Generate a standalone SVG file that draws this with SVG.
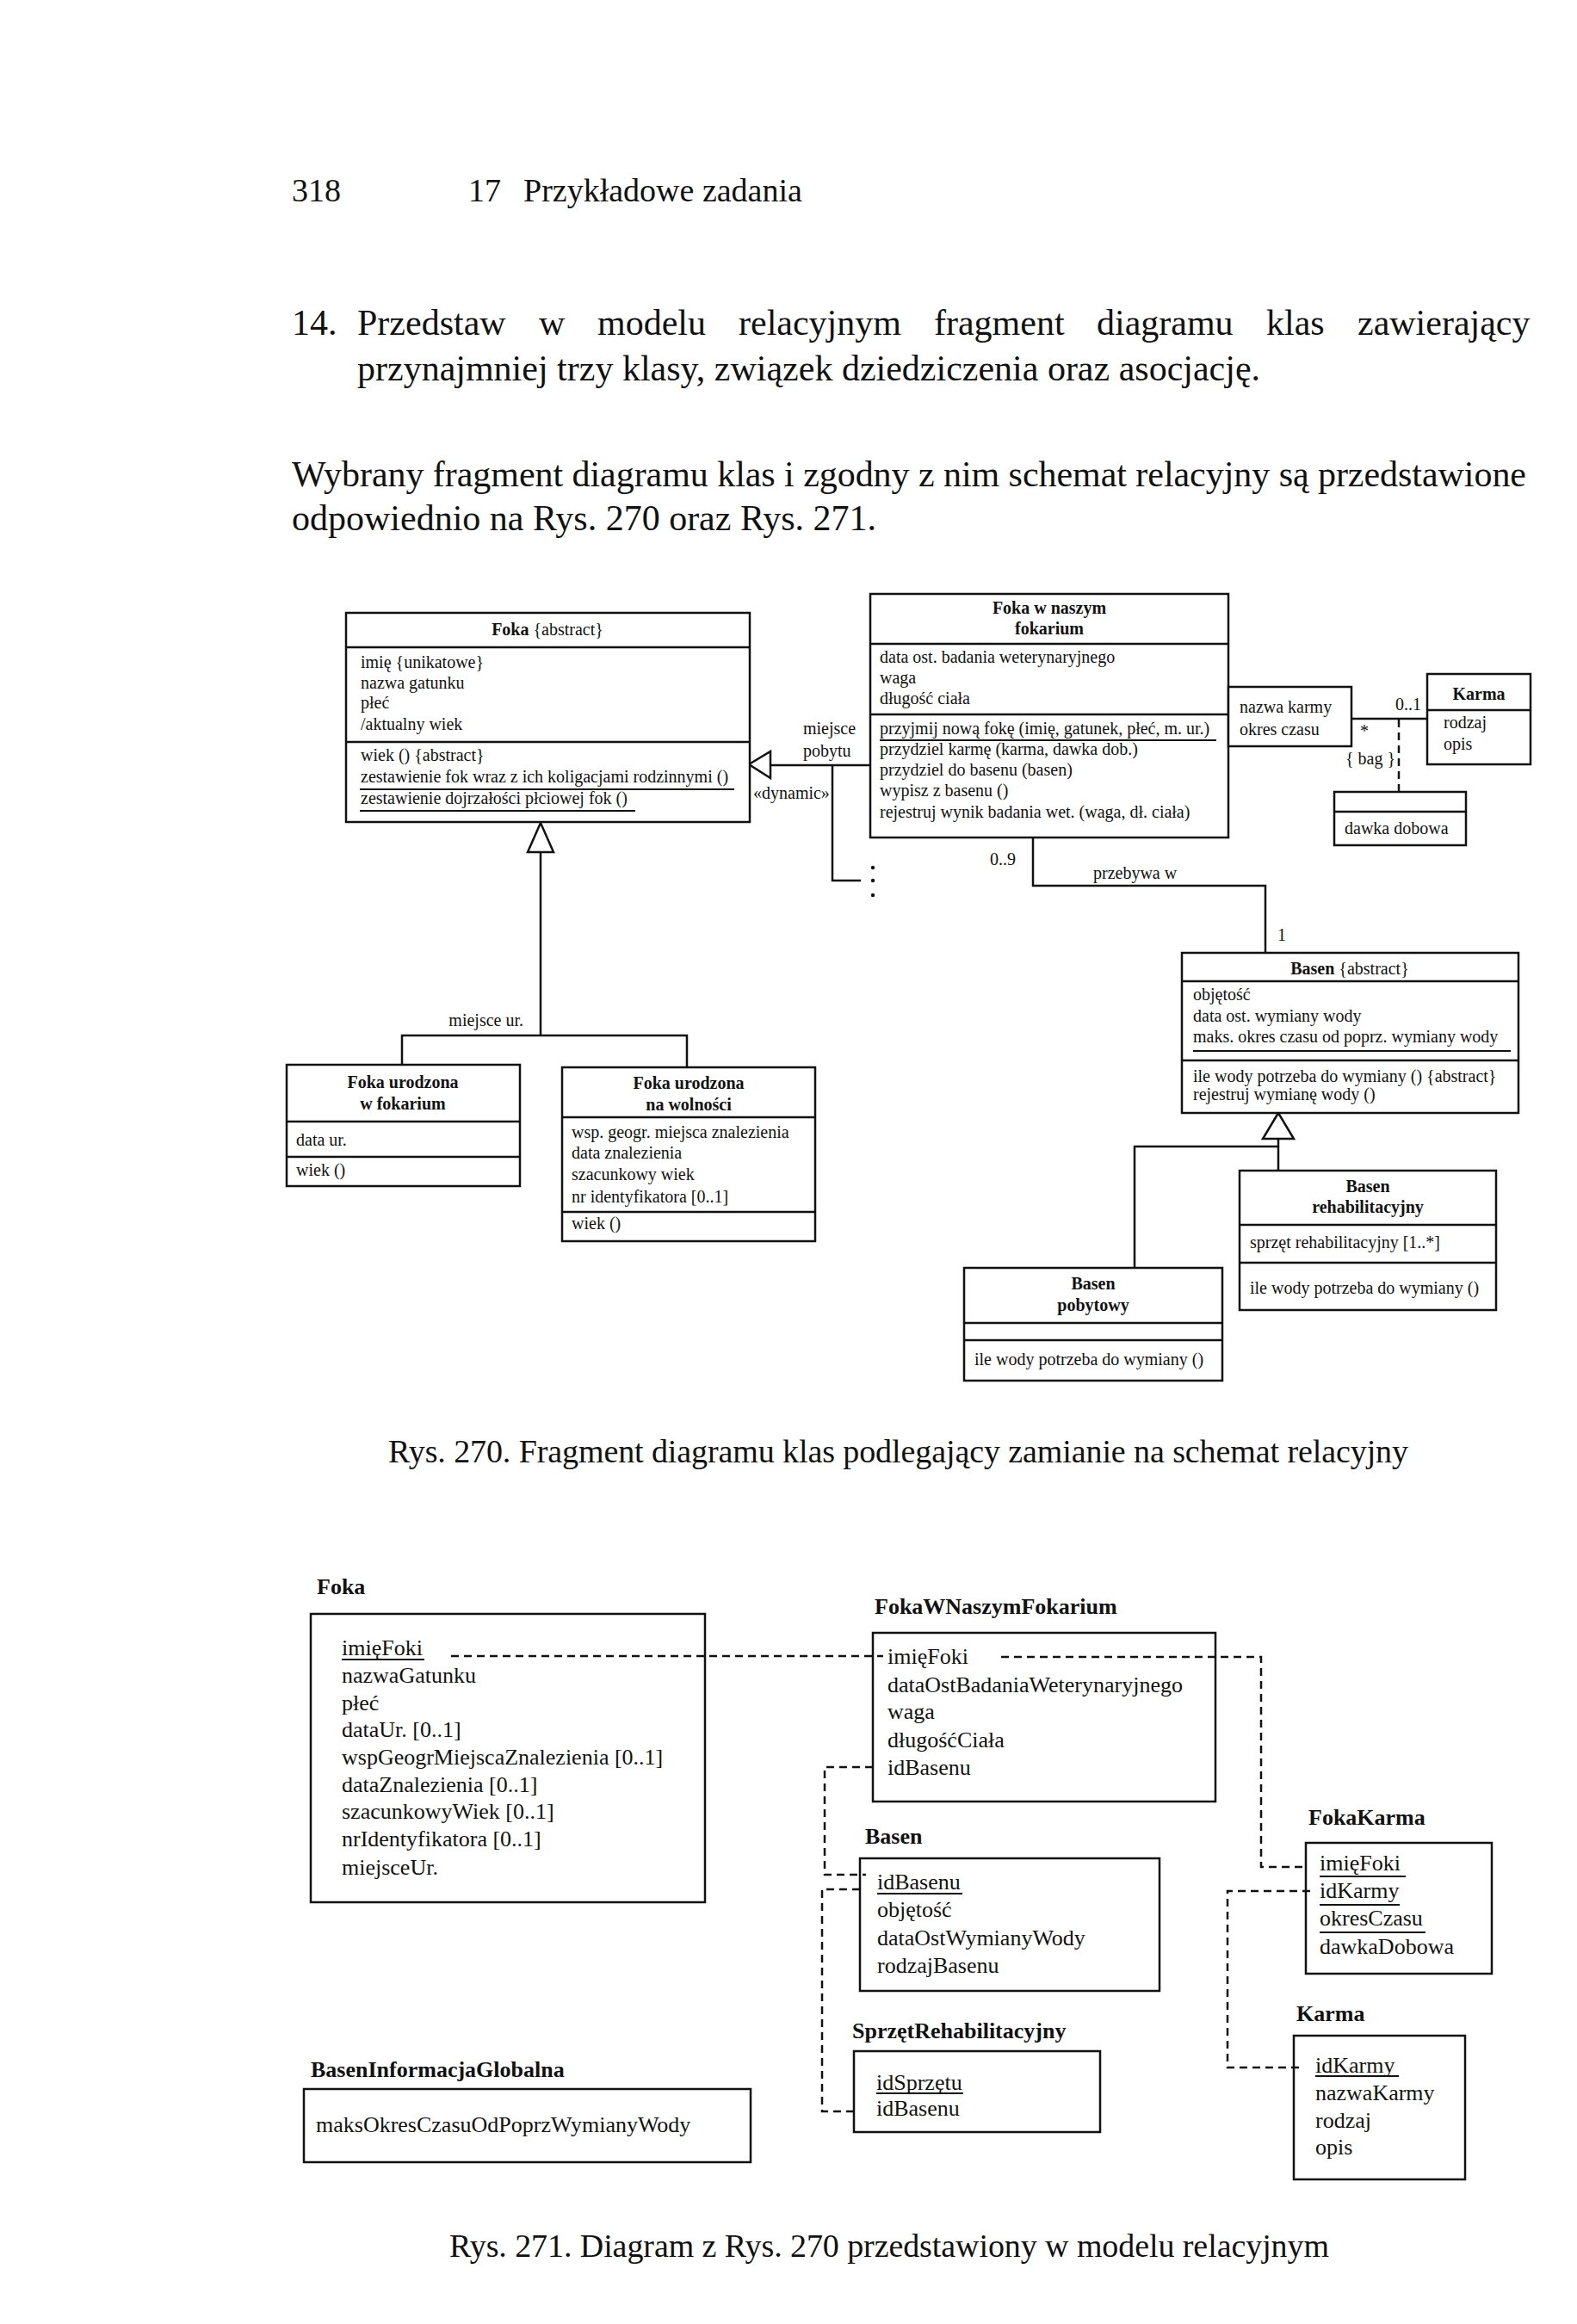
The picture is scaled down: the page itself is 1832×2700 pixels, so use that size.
<svg xmlns="http://www.w3.org/2000/svg" width="1832" height="2700" viewBox="0 0 1832 2700">
<style>
  text { font-family: "Liberation Serif", "Times New Roman", serif; fill: #111; }
  .page { font-size: 38px; }
  .body { font-size: 42px; }
  .cap { font-size: 38px; }
  .t { font-size: 20px; }
  .tb { font-size: 20px; font-weight: bold; }
  .r { font-size: 26px; }
  .rl { font-size: 26px; font-weight: bold; }
  .box { fill: #fff; stroke: #111; stroke-width: 2.5; }
  .ln { fill: none; stroke: #111; stroke-width: 2.5; }
  .ul { stroke: #111; stroke-width: 1.8; }
  .dash { fill: none; stroke: #111; stroke-width: 2.5; stroke-dasharray: 9 6; }
  .tri { fill: #fff; stroke: #111; stroke-width: 2.5; }
</style>

<rect x="0" y="0" width="1832" height="2700" fill="#fff"/>

<!-- Page header and text -->
<g id="page-text">
  <text class="page" x="339" y="234">318</text>
  <text class="page" x="544" y="234">17</text>
  <text class="page" x="608" y="234">Przykładowe zadania</text>

  <text class="body" x="339" y="389">14.</text>
  <text class="body" y="389"><tspan x="415">Przedstaw</tspan><tspan x="626">w</tspan><tspan x="694">modelu</tspan><tspan x="858">relacyjnym</tspan><tspan x="1085">fragment</tspan><tspan x="1274">diagramu</tspan><tspan x="1471">klas</tspan><tspan x="1577">zawierający</tspan></text>
  <text class="body" x="415" y="442">przynajmniej trzy klasy, związek dziedziczenia oraz asocjację.</text>

  <text class="body" x="339" y="565" textLength="1434" lengthAdjust="spacing">Wybrany fragment diagramu klas i zgodny z nim schemat relacyjny są przedstawione</text>
  <text class="body" x="339" y="616">odpowiednio na Rys. 270 oraz Rys. 271.</text>

  <text class="cap" x="451" y="1699" textLength="1185" lengthAdjust="spacing">Rys. 270. Fragment diagramu klas podlegający zamianie na schemat relacyjny</text>
  <text class="cap" x="522" y="2622" textLength="1022" lengthAdjust="spacing">Rys. 271. Diagram z Rys. 270 przedstawiony w modelu relacyjnym</text>
</g>

<!-- ===================== Rys. 270 : UML class diagram ===================== -->
<g id="uml-connectors">
  <!-- generalization Foka <- subclasses -->
  <polyline class="ln" points="628,990 628,1203"/>
  <polyline class="ln" points="467,1237 467,1203 798,1203 798,1240"/>
  <polygon class="tri" points="628,956 613,990 643,990"/>
  <text class="t" x="608" y="1192" text-anchor="end">miejsce ur.</text>

  <!-- dynamic generalization: Foka w naszym fokarium -> Foka -->
  <polyline class="ln" points="895,889 1011,889"/>
  <polyline class="ln" points="967,889 967,1023 1000,1023"/>
  <polygon class="tri" points="870,888 895,873 895,904"/>
  <circle cx="1014" cy="1008" r="2.2" fill="#111"/>
  <circle cx="1014" cy="1023" r="2.2" fill="#111"/>
  <circle cx="1014" cy="1040" r="2.2" fill="#111"/>
  <text class="t" x="933" y="853">miejsce</text>
  <text class="t" x="933" y="879">pobytu</text>
  <text class="t" x="875" y="928">«dynamic»</text>

  <!-- association przebywa w -->
  <polyline class="ln" points="1200,973 1200,1029 1470,1029 1470,1107"/>
  <text class="t" x="1150" y="1005">0..9</text>
  <text class="t" x="1270" y="1021">przebywa w</text>
  <text class="t" x="1484" y="1093">1</text>

  <!-- qualified association to Karma -->
  <line class="ln" x1="1570" y1="835" x2="1658" y2="835"/>
  <line class="dash" x1="1625" y1="836" x2="1625" y2="920" stroke-dasharray="7 5"/>
  <text class="t" x="1621" y="825">0..1</text>
  <text class="t" x="1580" y="856">*</text>
  <text class="t" x="1563" y="888">{ bag }</text>

  <!-- generalization Basen <- subclasses -->
  <polyline class="ln" points="1485,1323 1485,1360"/>
  <polyline class="ln" points="1485,1332 1318,1332 1318,1473"/>
  <polygon class="tri" points="1485,1293 1467,1323 1503,1323"/>
</g>

<g id="uml-foka">
  <rect class="box" x="402" y="712" width="469" height="243"/>
  <line class="ln" x1="402" y1="752" x2="871" y2="752"/>
  <line class="ln" x1="402" y1="862" x2="871" y2="862"/>
  <text class="t" x="636" y="738" text-anchor="middle"><tspan font-weight="bold">Foka</tspan> {abstract}</text>
  <text class="t" x="419" y="776">imię {unikatowe}</text>
  <text class="t" x="419" y="800">nazwa gatunku</text>
  <text class="t" x="419" y="823">płeć</text>
  <text class="t" x="419" y="848">/aktualny wiek</text>
  <text class="t" x="419" y="884">wiek () {abstract}</text>
  <text class="t" x="419" y="909">zestawienie fok wraz z ich koligacjami rodzinnymi ()</text>
  <line class="ul" x1="418" y1="917" x2="853" y2="917"/>
  <text class="t" x="419" y="934">zestawienie dojrzałości płciowej fok ()</text>
  <line class="ul" x1="418" y1="942" x2="738" y2="942"/>
</g>

<g id="uml-foka-fokarium">
  <rect class="box" x="1011" y="690" width="416" height="283"/>
  <line class="ln" x1="1011" y1="748" x2="1427" y2="748"/>
  <line class="ln" x1="1011" y1="830" x2="1427" y2="830"/>
  <text class="tb" x="1219" y="713" text-anchor="middle">Foka w naszym</text>
  <text class="tb" x="1219" y="737" text-anchor="middle">fokarium</text>
  <text class="t" x="1022" y="770">data ost. badania weterynaryjnego</text>
  <text class="t" x="1022" y="794">waga</text>
  <text class="t" x="1022" y="818">długość ciała</text>
  <text class="t" x="1022" y="853">przyjmij nową fokę (imię, gatunek, płeć, m. ur.)</text>
  <line class="ul" x1="1022" y1="860" x2="1413" y2="860"/>
  <text class="t" x="1022" y="877">przydziel karmę (karma, dawka dob.)</text>
  <text class="t" x="1022" y="901">przydziel do basenu (basen)</text>
  <text class="t" x="1022" y="925">wypisz z basenu ()</text>
  <text class="t" x="1022" y="950">rejestruj wynik badania wet. (waga, dł. ciała)</text>
</g>

<g id="uml-qualifier">
  <rect class="box" x="1427" y="798" width="143" height="69"/>
  <text class="t" x="1440" y="828">nazwa karmy</text>
  <text class="t" x="1440" y="854">okres czasu</text>
</g>

<g id="uml-karma">
  <rect class="box" x="1658" y="783" width="120" height="105"/>
  <line class="ln" x1="1658" y1="825" x2="1778" y2="825"/>
  <text class="tb" x="1718" y="813" text-anchor="middle">Karma</text>
  <text class="t" x="1677" y="846">rodzaj</text>
  <text class="t" x="1677" y="871">opis</text>
</g>

<g id="uml-dawka">
  <rect class="box" x="1550" y="920" width="153" height="62"/>
  <line class="ln" x1="1550" y1="943" x2="1703" y2="943"/>
  <text class="t" x="1562" y="969">dawka dobowa</text>
</g>

<g id="uml-foka-fokarium-ur">
  <rect class="box" x="333" y="1237" width="271" height="141"/>
  <line class="ln" x1="333" y1="1303" x2="604" y2="1303"/>
  <line class="ln" x1="333" y1="1344" x2="604" y2="1344"/>
  <text class="tb" x="468" y="1264" text-anchor="middle">Foka urodzona</text>
  <text class="tb" x="468" y="1289" text-anchor="middle">w fokarium</text>
  <text class="t" x="344" y="1331">data ur.</text>
  <text class="t" x="344" y="1366">wiek ()</text>
</g>

<g id="uml-foka-wolnosc">
  <rect class="box" x="653" y="1240" width="294" height="202"/>
  <line class="ln" x1="653" y1="1298" x2="947" y2="1298"/>
  <line class="ln" x1="653" y1="1408" x2="947" y2="1408"/>
  <text class="tb" x="800" y="1265" text-anchor="middle">Foka urodzona</text>
  <text class="tb" x="800" y="1290" text-anchor="middle">na wolności</text>
  <text class="t" x="664" y="1322">wsp. geogr. miejsca znalezienia</text>
  <text class="t" x="664" y="1346">data znalezienia</text>
  <text class="t" x="664" y="1371">szacunkowy wiek</text>
  <text class="t" x="664" y="1397">nr identyfikatora [0..1]</text>
  <text class="t" x="664" y="1428">wiek ()</text>
</g>

<g id="uml-basen">
  <rect class="box" x="1373" y="1107" width="391" height="186"/>
  <line class="ln" x1="1373" y1="1140" x2="1764" y2="1140"/>
  <line class="ln" x1="1373" y1="1232" x2="1764" y2="1232"/>
  <text class="t" x="1568" y="1132" text-anchor="middle"><tspan font-weight="bold">Basen</tspan> {abstract}</text>
  <text class="t" x="1386" y="1162">objętość</text>
  <text class="t" x="1386" y="1187">data ost. wymiany wody</text>
  <text class="t" x="1386" y="1211">maks. okres czasu od poprz. wymiany wody</text>
  <line class="ul" x1="1386" y1="1221" x2="1755" y2="1221"/>
  <text class="t" x="1386" y="1257">ile wody potrzeba do wymiany () {abstract}</text>
  <text class="t" x="1386" y="1278">rejestruj wymianę wody ()</text>
</g>

<g id="uml-basen-rehab">
  <rect class="box" x="1440" y="1360" width="298" height="162"/>
  <line class="ln" x1="1440" y1="1423" x2="1738" y2="1423"/>
  <line class="ln" x1="1440" y1="1467" x2="1738" y2="1467"/>
  <text class="tb" x="1589" y="1385" text-anchor="middle">Basen</text>
  <text class="tb" x="1589" y="1409" text-anchor="middle">rehabilitacyjny</text>
  <text class="t" x="1452" y="1450">sprzęt rehabilitacyjny [1..*]</text>
  <text class="t" x="1452" y="1503">ile wody potrzeba do wymiany ()</text>
</g>

<g id="uml-basen-pobytowy">
  <rect class="box" x="1120" y="1473" width="300" height="131"/>
  <line class="ln" x1="1120" y1="1537" x2="1420" y2="1537"/>
  <line class="ln" x1="1120" y1="1557" x2="1420" y2="1557"/>
  <text class="tb" x="1270" y="1498" text-anchor="middle">Basen</text>
  <text class="tb" x="1270" y="1523" text-anchor="middle">pobytowy</text>
  <text class="t" x="1132" y="1586">ile wody potrzeba do wymiany ()</text>
</g>

<!-- ===================== Rys. 271 : relational schema ===================== -->
<g id="rel-foka">
  <text class="rl" x="368" y="1852">Foka</text>
  <rect class="box" x="361" y="1875" width="458" height="335"/>
  <text class="r" x="397" y="1923">imięFoki</text>
  <line class="ul" x1="397" y1="1928" x2="493" y2="1928"/>
  <text class="r" x="397" y="1955">nazwaGatunku</text>
  <text class="r" x="397" y="1987">płeć</text>
  <text class="r" x="397" y="2018">dataUr. [0..1]</text>
  <text class="r" x="397" y="2050">wspGeogrMiejscaZnalezienia [0..1]</text>
  <text class="r" x="397" y="2082">dataZnalezienia [0..1]</text>
  <text class="r" x="397" y="2113">szacunkowyWiek [0..1]</text>
  <text class="r" x="397" y="2145">nrIdentyfikatora [0..1]</text>
  <text class="r" x="397" y="2178">miejsceUr.</text>
</g>

<g id="rel-foka-fokarium">
  <text class="rl" x="1016" y="1875">FokaWNaszymFokarium</text>
  <rect class="box" x="1014" y="1897" width="398" height="196"/>
  <text class="r" x="1031" y="1933">imięFoki</text>
  <text class="r" x="1031" y="1966">dataOstBadaniaWeterynaryjnego</text>
  <text class="r" x="1031" y="1997">waga</text>
  <text class="r" x="1031" y="2030">długośćCiała</text>
  <text class="r" x="1031" y="2062">idBasenu</text>
</g>

<g id="rel-basen">
  <text class="rl" x="1005" y="2142">Basen</text>
  <rect class="box" x="999" y="2159" width="348" height="154"/>
  <text class="r" x="1019" y="2195">idBasenu</text>
  <line class="ul" x1="1019" y1="2200" x2="1118" y2="2200"/>
  <text class="r" x="1019" y="2227">objętość</text>
  <text class="r" x="1019" y="2260">dataOstWymianyWody</text>
  <text class="r" x="1019" y="2292">rodzajBasenu</text>
</g>

<g id="rel-fokakarma">
  <text class="rl" x="1520" y="2120">FokaKarma</text>
  <rect class="box" x="1517" y="2141" width="216" height="152"/>
  <text class="r" x="1533" y="2173">imięFoki</text>
  <line class="ul" x1="1533" y1="2180" x2="1633" y2="2180"/>
  <text class="r" x="1533" y="2205">idKarmy</text>
  <line class="ul" x1="1533" y1="2213" x2="1626" y2="2213"/>
  <text class="r" x="1533" y="2237">okresCzasu</text>
  <line class="ul" x1="1533" y1="2245" x2="1656" y2="2245"/>
  <text class="r" x="1533" y="2270">dawkaDobowa</text>
</g>

<g id="rel-karma">
  <text class="rl" x="1506" y="2348">Karma</text>
  <rect class="box" x="1503" y="2365" width="199" height="167"/>
  <text class="r" x="1528" y="2408">idKarmy</text>
  <line class="ul" x1="1528" y1="2412" x2="1625" y2="2412"/>
  <text class="r" x="1528" y="2440">nazwaKarmy</text>
  <text class="r" x="1528" y="2472">rodzaj</text>
  <text class="r" x="1528" y="2503">opis</text>
</g>

<g id="rel-basen-info">
  <text class="rl" x="361" y="2413">BasenInformacjaGlobalna</text>
  <rect class="box" x="353" y="2427" width="519" height="85"/>
  <text class="r" x="367" y="2477">maksOkresCzasuOdPoprzWymianyWody</text>
</g>

<g id="rel-sprzet">
  <text class="rl" x="990" y="2368">SprzętRehabilitacyjny</text>
  <rect class="box" x="992" y="2383" width="286" height="94"/>
  <text class="r" x="1018" y="2428">idSprzętu</text>
  <line class="ul" x1="1018" y1="2432" x2="1119" y2="2432"/>
  <text class="r" x="1018" y="2458">idBasenu</text>
</g>

<g id="rel-connectors">
  <polyline class="dash" points="524,1924 1026,1924"/>
  <polyline class="dash" points="1163,1925 1465,1925 1465,2169 1517,2169"/>
  <polyline class="dash" points="1014,2053 958,2053 958,2178 1006,2178"/>
  <polyline class="dash" points="999,2195 955,2195 955,2453 992,2453"/>
  <polyline class="dash" points="1522,2197 1426,2197 1426,2402 1513,2402"/>
</g>
</svg>
